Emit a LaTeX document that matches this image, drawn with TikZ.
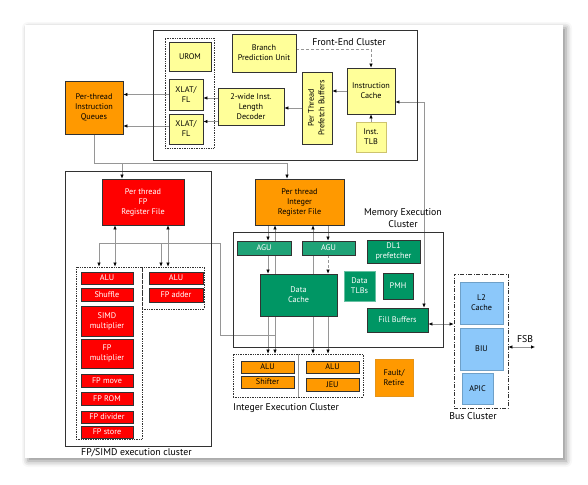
\documentclass[tikz,border=0pt]{standalone}
\usepackage{fontspec}
\setmainfont{PT Sans}
\usetikzlibrary{arrows.meta,shadows.blur}
\pgfdeclarelayer{panel}
\pgfdeclarelayer{wires}
\pgfsetlayers{panel,wires,main}
\definecolor{cyel}{RGB}{255,255,153}
\definecolor{corg}{RGB}{255,153,0}
\definecolor{cred}{RGB}{255,0,0}
\definecolor{cgrn}{RGB}{0,150,100}
\definecolor{cblu}{RGB}{140,200,250}
\definecolor{cbrd}{RGB}{50,50,50}
\definecolor{cwire}{RGB}{150,150,150}
\newcommand\mkblk[7]{\node[#6, minimum width={#4-#2}, minimum height={#5-#3}] (#1) at ({(#2+#4)/2},{(#3+#5)/2}) {#7};}
\begin{document}
\begin{tikzpicture}[x=1pt,y=-1pt,
  >={Latex[length=4pt,width=3.4pt,color=black]},
  blkbase/.style={draw=cbrd, line width=0.7pt, inner sep=0pt, align=center, font=\fontsize{8.2}{10}\selectfont},
  ybox/.style={blkbase, fill=cyel},
  obox/.style={blkbase, fill=corg},
  rbox/.style={blkbase, fill=cred, text=white},
  gbox/.style={blkbase, fill=cgrn, text=white},
  bbox/.style={blkbase, fill=cblu, draw={rgb,255:red,110;green,160;blue,200}},
  grp/.style={draw=cbrd, line width=0.7pt, inner sep=0pt},
  dotgrp/.style={draw=cbrd, densely dotted, line width=0.7pt, inner sep=0pt},
  dashdotgrp/.style={draw=cbrd, line width=0.7pt, inner sep=0pt, dash pattern=on 4pt off 1.5pt on 1pt off 1.5pt},
  lbl/.style={font=\fontsize{9.8}{11.8}\selectfont, align=center, inner sep=0pt},
  wire/.style={draw=cwire, line width=0.6pt}]
\useasboundingbox (0,0) rectangle (588,484);
\begin{pgfonlayer}{panel}
\fill[white, blur shadow={shadow xshift=3pt, shadow yshift=-3pt, shadow blur radius=6pt, shadow opacity=45}] (25,25) rectangle (563,458);
\end{pgfonlayer}

% Front-end cluster
\mkblk{fe}{153}{30}{417}{160}{grp}{}
\node[lbl] (felbl) at (349,42) {Front-End Cluster};
\mkblk{xlgrp}{165}{38}{214}{148}{dotgrp}{}
\mkblk{urom}{169}{42}{211}{71}{ybox}{UROM}
\mkblk{xlat1}{169}{79}{203}{110}{ybox}{XLAT/\\FL}
\mkblk{xlat2}{169}{114}{203}{144}{ybox}{XLAT/\\FL}
\mkblk{bpu}{232}{34}{296}{72}{ybox}{Branch\\Prediction Unit}
\mkblk{dec}{218}{88}{284}{125}{ybox}{2-wide Inst.\\Length\\Decoder}
\mkblk{pfb}{302}{72}{332}{144}{ybox}{\rotatebox{90}{\begin{tabular}{@{}c@{}}Per Thread\\[0.5pt]Prefetch Buffers\end{tabular}}}
\mkblk{icache}{347}{68}{395}{114}{ybox}{Instruction\\Cache}
\mkblk{itlb}{356}{122}{386}{152}{ybox,draw={rgb,255:red,205;green,195;blue,110}}{Inst.\\TLB}

\mkblk{iq}{65}{81}{123}{134}{obox}{Per-thread\\Instruction\\Queues}

% FP cluster
\mkblk{fpc}{65}{171}{211}{446}{grp}{}
\node[lbl, anchor=west] (fplbl) at (81,453) {FP/SIMD execution cluster};
\mkblk{fprf}{102}{179}{184}{225}{rbox}{Per thread\\FP\\Register File}
\mkblk{fpL}{76}{267}{142}{439}{dotgrp}{}
\mkblk{fpR}{142}{267}{204}{309}{dotgrp}{}
\mkblk{falu1}{81}{272}{133}{284}{rbox}{ALU}
\mkblk{fshuf}{81}{288}{133}{301}{rbox}{Shuffle}
\mkblk{fsimd}{81}{306}{133}{336}{rbox}{SIMD\\multiplier}
\mkblk{fmul}{81}{339}{133}{368}{rbox}{FP\\multiplier}
\mkblk{fmove}{81}{374}{133}{387}{rbox}{FP move}
\mkblk{from}{81}{392}{133}{405}{rbox}{FP ROM}
\mkblk{fdiv}{81}{411}{133}{423}{rbox}{FP divider}
\mkblk{fstore}{81}{426}{133}{438}{rbox}{FP store}
\mkblk{falu2}{149}{272}{203}{284}{rbox}{ALU}
\mkblk{fadd}{149}{288}{203}{302}{rbox}{FP adder}

% Memory execution cluster
\mkblk{intrf}{255}{179}{344}{225}{obox}{Per thread\\Integer\\Register File}
\mkblk{mem}{233}{232}{443}{347}{grp}{}
\node[lbl] (memlbl) at (403,218) {Memory Execution\\Cluster};
\mkblk{agu1}{237}{241}{291}{255}{gbox,fill=cgrn!88!white}{AGU}
\mkblk{agu2}{302}{241}{355}{255}{gbox,fill=cgrn!88!white}{AGU}
\mkblk{dl1}{367}{240}{420}{263}{gbox}{DL1\\prefetcher}
\mkblk{dtlb}{344}{271}{375}{301}{gbox,draw=cgrn!60!white}{Data\\TLBs}
\mkblk{pmh}{383}{273}{413}{299}{gbox}{PMH}
\mkblk{dcache}{260}{274}{337}{316}{gbox}{Data\\Cache}
\mkblk{fillb}{367}{308}{428}{332}{gbox}{Fill Buffers}

% Integer execution cluster
\mkblk{intg}{233}{354}{363}{397}{dotgrp}{}
\coordinate (dvx) at (298,0);
\draw[draw=cwire, line width=0.6pt] (intg.north -| dvx) -- (intg.south -| dvx);
\mkblk{ialu1}{241}{361}{294}{373}{obox}{ALU}
\mkblk{ishift}{241}{376}{294}{388}{obox}{Shifter}
\mkblk{ialu2}{306}{361}{359}{373}{obox}{ALU}
\mkblk{jeu}{306}{378}{359}{391}{obox}{JEU}
\node[lbl, anchor=west] (intlbl) at (233,408) {Integer Execution Cluster};
\mkblk{fault}{375}{359}{413}{396}{obox,draw=corg!80!gray}{Fault/\\Retire}

% Bus cluster
\mkblk{bus}{454}{274}{508}{408}{dashdotgrp}{}
\mkblk{l2}{460}{282}{503}{324}{bbox}{L2\\Cache}
\mkblk{biu}{460}{328}{503}{370}{bbox}{BIU}
\mkblk{apic}{462}{373}{493}{404}{bbox}{APIC}
\node[lbl] (buslbl) at (473,416) {Bus Cluster};
\coordinate (fsb) at (535,347);
\node[lbl] (fsblbl) at (525,339) {FSB};

\begin{pgfonlayer}{wires}
% front end
\draw[wire,->] (xlat1.west) -- (xlat1.west -| iq.east);
\coordinate (q2) at ([yshift=3pt]xlat2.west);
\draw[wire,->] (q2) -- (q2 -| iq.east);
\coordinate (d1) at ([yshift=8.5pt]dec.west);
\coordinate (d2) at ([yshift=-15pt]dec.west);
\draw[wire,->] (d1) -- (d1 -| xlat1.east);
\draw[wire,->] (d2) -- (d2 -| xlat2.east);
\draw[wire,->] (pfb.west) -- (pfb.west -| dec.east);
\draw[wire,->] (icache.west) -- (icache.west -| pfb.east);
\coordinate (b1) at ([yshift=4pt]bpu.east);
\draw[wire,->,densely dashed] (b1) -| (icache.north);
\draw[wire,->] (itlb.north) -- (itlb.north |- icache.south);
\coordinate (fbx) at (424,102);
\draw[wire,<->] (icache.east |- fbx) -- (fbx) -- (fbx |- fillb.north);
% queues to register files
\coordinate (jb) at (122,163);
\coordinate (jc) at (287,163);
\draw[wire,->] (iq.south) |- (jc) -- (jc |- intrf.north);
\draw[wire,->] (jb) -- (jb |- fprf.north);
% FP
\coordinate (f1) at (115,0);
\coordinate (f2) at (168,0);
\coordinate (f3) at (99,243);
\coordinate (f4) at (161,243);
\coordinate (f5) at (220,243);
\coordinate (f6) at (220,335);
\coordinate (f7) at (275,335);
\draw[wire,<->] (fprf.south -| f1) -- (fpL.north -| f1);
\draw[wire,<->] (fprf.south -| f2) -- (fpR.north -| f2);
\draw[wire] (f3) -- (f5) -- (f6) -- (f7);
\draw[wire,->] (f3) -- (f3 |- fpL.north);
\draw[wire,->] (f4) -- (f4 |- fpR.north);
% integer
\coordinate (i1) at (268,0);
\coordinate (i2) at (275,0);
\coordinate (i3) at (313,0);
\coordinate (i4) at (328,0);
\draw[wire,->] (intrf.south -| i1) -- (agu1.north -| i1);
\draw[wire,->] (agu1.south -| i1) -- (dcache.north -| i1);
\draw[wire,->] (dcache.south -| i1) -- (intg.north -| i1);
\draw[wire,<->] (intrf.south -| i2) -- (intg.north -| i2);
\draw[wire,<->] (intrf.south -| i3) -- (intg.north -| i3);
\draw[wire,->] (intrf.south -| i4) -- (agu2.north -| i4);
\draw[wire,->,densely dashed] (agu2.south -| i4) -- (dcache.north -| i4);
\draw[wire,->] (dcache.south -| i4) -- (intg.north -| i4);
% bus
\coordinate (fb2) at (0,324);
\draw[wire,<->] (fillb.east |- fb2) -- (bus.west |- fb2);
\draw[wire,<->] (bus.east |- fsb) -- (fsb);
\end{pgfonlayer}
\end{tikzpicture}
\end{document}
